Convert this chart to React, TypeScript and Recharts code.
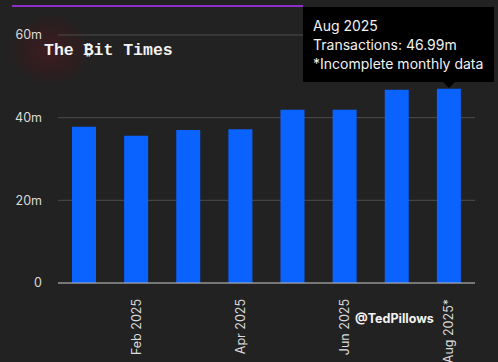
import { useEffect } from 'react';
import { BarChart, Bar, XAxis, YAxis, CartesianGrid, Tooltip } from 'recharts';

// monthly transaction counts, millions
const months = ['Jan 2025', 'Feb 2025', 'Mar 2025', 'Apr 2025', 'May 2025', 'Jun 2025', 'Jul 2025', 'Aug 2025*'];
const transactions = [37.8, 35.6, 37.0, 37.2, 41.9, 41.9, 46.75, 46.99];
const yTicks = [0, 20, 40, 60];

const data = months.map((m, i) => ({ month: m, tx: transactions[i] }));

const FONT = 'Inter, "Noto Sans", sans-serif';

function MonthTick(props: any) {
  const { x, y, payload, index } = props;
  if (index % 2 === 0) return null;
  const ty = y + 8;
  return (
    <text
      x={x}
      y={ty}
      transform={`rotate(-90, ${x}, ${ty})`}
      textAnchor="end"
      dy="0.35em"
      fill="#dcdcdc"
      fontSize={12.5}
      fontFamily={FONT}
    >
      {payload.value}
    </text>
  );
}

function InfoBox({ payload }: any) {
  const row = payload && payload[0] ? payload[0].payload : data[data.length - 1];
  return (
    <div
      style={{
        position: 'relative',
        width: 191,
        height: 75,
        boxSizing: 'border-box',
        background: '#000',
        color: '#f2f2f2',
        fontFamily: FONT,
        fontSize: 14,
        lineHeight: '19px',
        padding: '9px 10px',
        whiteSpace: 'nowrap',
      }}
    >
      <div>{row.month.replace('*', '')}</div>
      <div>Transactions: {row.tx.toFixed(2)}m</div>
      <div>*Incomplete monthly data</div>
      <div
        style={{
          position: 'absolute',
          left: 140,
          bottom: -6,
          width: 0,
          height: 0,
          borderLeft: '6px solid transparent',
          borderRight: '6px solid transparent',
          borderTop: '6px solid #000',
        }}
      />
    </div>
  );
}

export default function App() {
  useEffect(() => {
    document.body.style.margin = '0';
  }, []);

  return (
    <div style={{ position: 'relative', width: 498, height: 362, background: '#222222', overflow: 'hidden' }}>
      <svg width={498} height={362} style={{ position: 'absolute', left: 0, top: 0 }}>
        <defs>
          <radialGradient id="blot" cx="50%" cy="50%" r="50%">
            <stop offset="0%" stopColor="#5e1520" stopOpacity={0.5} />
            <stop offset="70%" stopColor="#4a141b" stopOpacity={0.25} />
            <stop offset="100%" stopColor="#4a141b" stopOpacity={0} />
          </radialGradient>
        </defs>
        <ellipse cx={50} cy={50} rx={42} ry={36} fill="url(#blot)" />
        <line x1={12} y1={6} x2={303} y2={6} stroke="#8e2fc8" strokeWidth={2} />
      </svg>
      <div style={{ position: 'absolute', left: 0, top: 0 }}>
        <BarChart width={498} height={362} data={data} margin={{ top: 35, right: 23, left: 0, bottom: 9 }}>
          <CartesianGrid vertical={false} stroke="#4c4c4c" />
          <XAxis
            dataKey="month"
            interval={0}
            height={70}
            tickLine={false}
            axisLine={{ stroke: '#b8b8b8' }}
            tick={<MonthTick />}
          />
          <YAxis
            domain={[0, 60]}
            ticks={yTicks}
            width={58}
            tickLine={false}
            axisLine={false}
            tickMargin={10}
            tick={{ fill: '#dcdcdc', fontSize: 12.5, fontFamily: FONT }}
            tickFormatter={(v: number) => (v === 0 ? '0' : `${v}m`)}
          />
          <Tooltip
            content={<InfoBox />}
            defaultIndex={7}
            active
            cursor={false}
            position={{ x: 303, y: 7 }}
            isAnimationActive={false}
            wrapperStyle={{ outline: 'none' }}
          />
          <Bar dataKey="tx" fill="#0a62ff" barSize={24} isAnimationActive={false} />
        </BarChart>
      </div>
      <div
        style={{
          position: 'absolute',
          left: 44,
          top: 41,
          fontFamily: '"Liberation Mono", "DejaVu Sans Mono", monospace',
          fontWeight: 700,
          fontSize: 16.5,
          color: '#f4f4f4',
          whiteSpace: 'nowrap',
          pointerEvents: 'none',
        }}
      >
        The ₿it Times
      </div>
      <div
        style={{
          position: 'absolute',
          left: 355,
          top: 311,
          fontFamily: FONT,
          fontWeight: 700,
          fontSize: 12.5,
          color: '#f4f4f4',
          whiteSpace: 'nowrap',
        }}
      >
        @TedPillows
      </div>
    </div>
  );
}
